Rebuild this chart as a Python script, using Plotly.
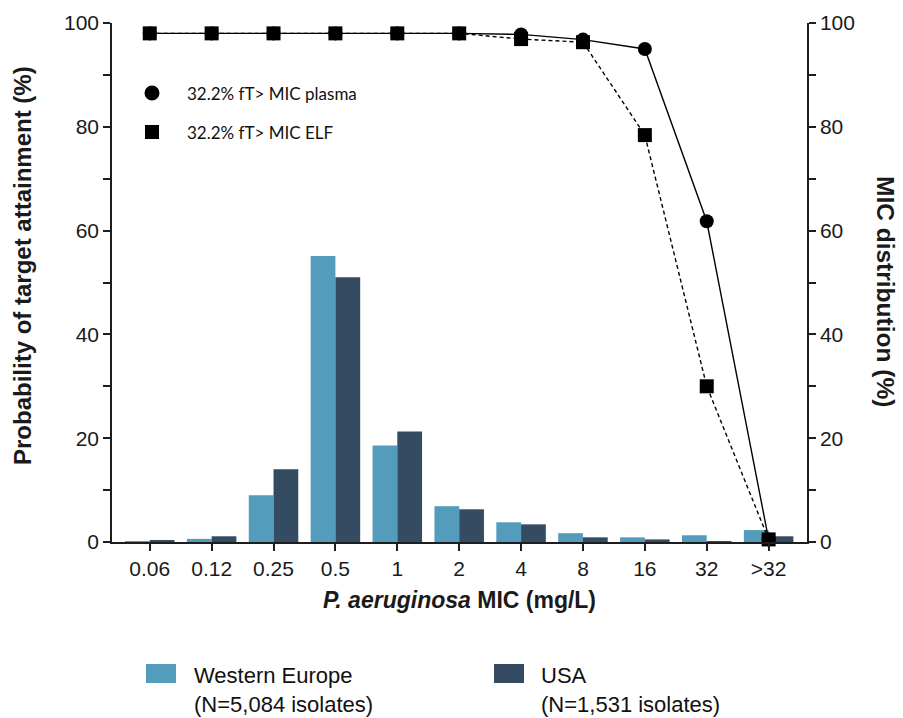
import plotly.graph_objects as go

# MIC categories (mg/L)
mic_labels = ["0.06", "0.12", "0.25", "0.5", "1", "2", "4", "8", "16", "32", ">32"]

# MIC distribution (%) by region
western_europe = [0.1, 0.6, 9.0, 55.1, 18.6, 6.9, 3.8, 1.7, 0.9, 1.3, 2.3]
usa = [0.3, 1.1, 14.0, 51.0, 21.3, 6.3, 3.4, 0.9, 0.5, 0.1, 1.1]

# Probability of target attainment (%)
pta_plasma = [98, 98, 98, 98, 98, 98, 97.8, 96.8, 95.0, 61.8, 0.5]
pta_elf = [98, 98, 98, 98, 98, 98, 96.9, 96.3, 78.4, 30.0, 0.5]

WE_COLOR = "#549cbb"
USA_COLOR = "#344b61"
AXIS_COLOR = "#1e1e1e"
SANS = "Liberation Sans, Arial, sans-serif"
HUMANIST = "Lato, Open Sans, sans-serif"

W, H = 903, 718
L, R, T, B = 112, 807, 23, 542


def px(x):
    return (x - L) / (R - L)


def py(y):
    return (B - y) / (B - T)


fig = go.Figure()

# Bars: MIC distribution on the right-hand axis
fig.add_trace(go.Bar(x=mic_labels, y=western_europe, name="Western Europe",
                     marker=dict(color=WE_COLOR, line=dict(width=0)),
                     yaxis="y"))
fig.add_trace(go.Bar(x=mic_labels, y=usa, name="USA",
                     marker=dict(color=USA_COLOR, line=dict(width=0)),
                     yaxis="y"))

# Lines: probability of target attainment on the left-hand axis
fig.add_trace(go.Scatter(x=mic_labels, y=pta_elf, mode="lines+markers",
                         name="32.2% fT> MIC ELF", yaxis="y2", cliponaxis=False,
                         line=dict(color="black", width=1.4, dash="4px,3px"),
                         marker=dict(symbol="square", size=14, color="black")))
fig.add_trace(go.Scatter(x=mic_labels, y=pta_plasma, mode="lines+markers",
                         name="32.2% fT> MIC plasma", yaxis="y2", cliponaxis=False,
                         line=dict(color="black", width=1.4),
                         marker=dict(symbol="circle", size=14, color="black")))

axis_common = dict(
    range=[0, 100], dtick=20, tick0=0,
    showline=True, linecolor=AXIS_COLOR, linewidth=1.5,
    ticks="outside", ticklen=7, tickwidth=1.5, tickcolor=AXIS_COLOR,
    minor=dict(dtick=10, ticks="outside", ticklen=7, tickwidth=1.5, tickcolor=AXIS_COLOR),
    showgrid=False, zeroline=False,
    tickfont=dict(family=SANS, size=21, color="#1a1a1a"),
    fixedrange=True,
)

fig.update_layout(
    width=W, height=H,
    margin=dict(l=L, r=W - R, t=T, b=H - B),
    paper_bgcolor="white", plot_bgcolor="white",
    barmode="group", bargap=0.2, bargroupgap=0,
    showlegend=False,
    xaxis=dict(
        type="category", range=[-0.61, 10.62],
        showline=True, linecolor=AXIS_COLOR, linewidth=1.5,
        ticks="outside", ticklen=7, tickwidth=1.5, tickcolor=AXIS_COLOR,
        tickfont=dict(family=SANS, size=21, color="#1a1a1a"),
        showgrid=False, zeroline=False,
        title=dict(text="<i>P. aeruginosa</i> MIC (mg/L)",
                   font=dict(family=SANS, size=23, color="#1a1a1a", weight="bold"),
                   standoff=13),
    ),
    yaxis=dict(side="right", **axis_common),
    yaxis2=dict(side="left", overlaying="y", **axis_common),
)

annotations = [
    dict(text="<b>Probability of target attainment (%)</b>", x=px(22), y=py(266),
         textangle=-90, font=dict(family=SANS, size=24, color="#1a1a1a")),
    dict(text="<b>MIC distribution (%)</b>", x=px(886), y=py(291),
         textangle=90, font=dict(family=SANS, size=24.5, color="#1a1a1a")),
    dict(text="32.2% fT> MIC plasma", x=px(185), y=py(93), xanchor="left",
         font=dict(family=HUMANIST, size=17, color="#111111")),
    dict(text="32.2% fT> MIC ELF", x=px(185), y=py(132), xanchor="left",
         font=dict(family=HUMANIST, size=17, color="#111111")),
    dict(text="Western Europe<br>(N=5,084 isolates)", x=px(192), y=py(661),
         xanchor="left", yanchor="top", align="left",
         font=dict(family=SANS, size=22, color="#111111")),
    dict(text="USA<br>(N=1,531 isolates)", x=px(539), y=py(661),
         xanchor="left", yanchor="top", align="left",
         font=dict(family=SANS, size=22, color="#111111")),
]
for a in annotations:
    a.update(xref="paper", yref="paper", showarrow=False)
    a.setdefault("xanchor", "center")
    a.setdefault("yanchor", "middle")
fig.update_layout(annotations=annotations)

shapes = [
    # in-plot key markers for the two target-attainment curves
    dict(type="circle", x0=px(144.5), x1=px(159.5), y0=py(100.5), y1=py(85.5),
         fillcolor="black", line=dict(width=0)),
    dict(type="rect", x0=px(145), x1=px(159), y0=py(139), y1=py(125),
         fillcolor="black", line=dict(width=0)),
    # region key swatches
    dict(type="rect", x0=px(146), x1=px(176), y0=py(683), y1=py(664),
         fillcolor=WE_COLOR, line=dict(width=0)),
    dict(type="rect", x0=px(494), x1=px(524), y0=py(683), y1=py(664),
         fillcolor=USA_COLOR, line=dict(width=0)),
]
for s in shapes:
    s.update(xref="paper", yref="paper")
fig.update_layout(shapes=shapes)

fig.write_html("out.html")
